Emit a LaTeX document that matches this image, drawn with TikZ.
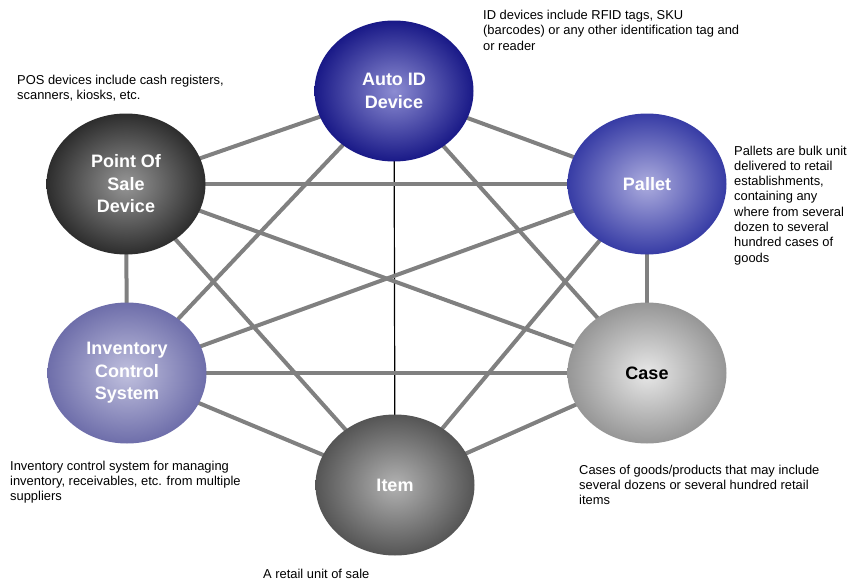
\documentclass[tikz,border=0pt]{standalone}
\usepackage{fontspec}
\setmainfont{Liberation Sans}
\usetikzlibrary{shapes.geometric,backgrounds}
\definecolor{linegray}{RGB}{128,128,128}
\definecolor{aidin}{RGB}{140,140,210}
\definecolor{aidout}{RGB}{25,25,135}
\definecolor{palin}{RGB}{172,172,222}
\definecolor{palout}{RGB}{55,60,165}
\definecolor{icsin}{RGB}{192,192,222}
\definecolor{icsout}{RGB}{110,110,170}
\definecolor{posin}{RGB}{150,150,150}
\definecolor{posout}{RGB}{45,45,45}
\definecolor{casein}{RGB}{232,232,232}
\definecolor{caseout}{RGB}{150,150,150}
\definecolor{itemin}{RGB}{178,178,178}
\definecolor{itemout}{RGB}{85,85,85}
\tikzset{
  ball/.style={ellipse, minimum width=159pt, minimum height=141pt, inner sep=0pt,
    align=center, text=white, font=\bfseries\fontsize{18}{22.5}\selectfont},
  link/.style={draw=linegray, line width=4pt},
  thinlink/.style={draw=black, line width=1.2pt},
  note/.style={anchor=north west, inner sep=0pt, align=left,
    font=\fontsize{12.9}{15.3}\selectfont}
}
\begin{document}
\begin{tikzpicture}[x=1pt,y=-1pt]
\useasboundingbox (0,0) rectangle (847,581);
\node[ball, inner color=aidin, outer color=aidout] (aid) at (394,91) {Auto ID\\Device};
\node[ball, inner color=posin, outer color=posout] (pos) at (126,184) {Point Of\\Sale\\Device};
\node[ball, inner color=palin, outer color=palout] (pal) at (647,184) {Pallet};
\node[ball, inner color=icsin, outer color=icsout] (ics) at (127,373) {Inventory\\Control\\System};
\node[ball, inner color=casein, outer color=caseout, text=black] (case) at (647,373) {Case};
\node[ball, inner color=itemin, outer color=itemout] (item) at (395,485) {Item};
\begin{scope}[on background layer]
\draw[link] (aid.center) -- (pos.center);
\draw[link] (aid.center) -- (pal.center);
\draw[link] (aid.center) -- (ics.center);
\draw[link] (aid.center) -- (case.center);
\draw[thinlink] (aid.center) -- (item.center);
\draw[link] (pos.center) -- (pal.center);
\draw[link] (pos.center) -- (case.center);
\draw[link] (pos.center) -- (ics.center);
\draw[link] (pos.center) -- (item.center);
\draw[link] (pal.center) -- (ics.center);
\draw[link] (pal.center) -- (item.center);
\draw[link] (pal.center) -- (case.center);
\draw[link] (ics.center) -- (case.center);
\draw[link] (ics.center) -- (item.center);
\draw[link] (case.center) -- (item.center);
\end{scope}
\node[note] (nid) at (483,10) {ID devices include RFID tags, SKU\\(barcodes) or any other identification tag and\\or reader};
\node[note] (npos) at (17,75) {POS devices include cash registers,\\scanners, kiosks, etc.};
\node[note] (npal) at (734,145.5) {Pallets are bulk unit\\delivered to retail\\establishments,\\containing any\\where from several\\dozen to several\\hundred cases of\\goods};
\node[note] (nics) at (10,460.5) {Inventory control system for managing\\inventory, receivables, etc. from multiple\\suppliers};
\node[note] (ncase) at (579,464.5) {Cases of goods/products that may include\\several dozens or several hundred retail\\items};
\node[note] (nitem) at (263,568.5) {A retail unit of sale};
\end{tikzpicture}
\end{document}
